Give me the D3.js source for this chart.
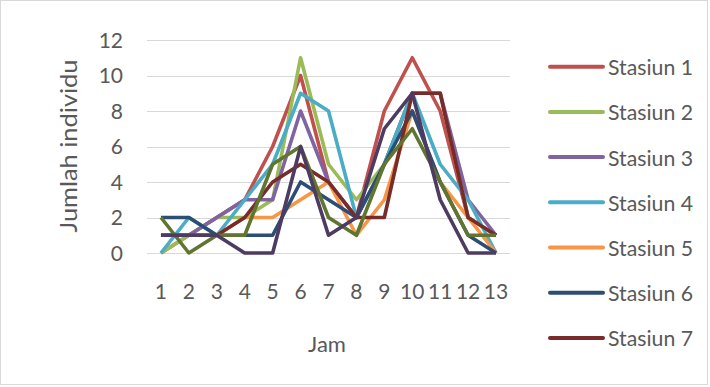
<!DOCTYPE html>
<html>
<head>
<meta charset="utf-8">
<script src="https://cdn.jsdelivr.net/npm/d3@7"></script>
<style>
  html, body { margin: 0; padding: 0; background: #fff; }
  svg { display: block; }
  text { font-family: Lato, "Open Sans", sans-serif; fill: #595959; }
</style>
</head>
<body>
<svg id="chart" width="710" height="387"></svg>
<script>
// ---- data ----
const hours = ["1","2","3","4","5","6","7","8","9","10","11","12","13"];
const yTicks = [0, 2, 4, 6, 8, 10, 12];
const seriesNames = ["Stasiun 1","Stasiun 2","Stasiun 3","Stasiun 4","Stasiun 5","Stasiun 6","Stasiun 7","Stasiun 8","Stasiun 9"];
const stasiun1 = [0, 1, 2, 3, 6, 10, 4, 2, 8, 11, 8, 2, 1];
const stasiun2 = [0, 1, 2, 2, 3, 11, 5, 3, 5, 9, 9, 2, 1];
const stasiun3 = [1, 1, 2, 3, 3, 8, 4, 2, 5, 9, 9, 3, 1];
const stasiun4 = [0, 2, 1, 3, 5, 9, 8, 2, 5, 9, 5, 3, 0];
const stasiun5 = [1, 1, 1, 2, 2, 3, 4, 1, 3, 8, 4, 2, 0];
const stasiun6 = [2, 2, 1, 1, 1, 4, 3, 2, 5, 8, 4, 1, 0];
const stasiun7 = [1, 1, 1, 2, 4, 5, 4, 2, 2, 9, 9, 2, 1];
const stasiun8 = [2, 0, 1, 1, 5, 6, 2, 1, 5, 7, 4, 1, 1];
const stasiun9 = [1, 1, 1, 0, 0, 6, 1, 2, 7, 9, 3, 0, 0];
const seriesValues = [stasiun1, stasiun2, stasiun3, stasiun4, stasiun5, stasiun6, stasiun7, stasiun8, stasiun9];
const colors = ["#C0504D","#9BBB59","#8064A2","#4BACC6","#F79646","#2C4D75","#772C2A","#5F7530","#4D3B62"];
const legendCount = 7; // legend shows only first seven entries

// ---- layout ----
const svg = d3.select("#chart");
const plot = { left: 147, right: 510, top: 40, bottom: 253 };

svg.append("rect")
  .attr("x", 0.5).attr("y", 0.5).attr("width", 707).attr("height", 384)
  .attr("fill", "#fff").attr("stroke", "#d9d9d9").attr("stroke-width", 1);

const x = d3.scaleBand().domain(hours).range([plot.left, plot.right]);
const y = d3.scaleLinear().domain([0, 12]).range([plot.bottom, plot.top]);

// gridlines
svg.append("g").selectAll("line").data(yTicks).join("line")
  .attr("x1", plot.left).attr("x2", plot.right)
  .attr("y1", d => Math.round(y(d)) + 0.5).attr("y2", d => Math.round(y(d)) + 0.5)
  .attr("stroke", "#d9d9d9").attr("stroke-width", 1.2);

// y axis labels
const yAxis = d3.axisLeft(y).tickValues(yTicks).tickSize(0).tickPadding(0);
const gy = svg.append("g").attr("transform", `translate(123,0)`).call(yAxis);
gy.select(".domain").remove();
gy.selectAll("text").attr("font-size", 21).attr("fill", "#595959")
  .style("font-family", "Lato, sans-serif").attr("dy", "0.35em");

// x axis labels
const xAxis = d3.axisBottom(x).tickSize(0).tickPadding(0);
const gx = svg.append("g").attr("transform", `translate(0,284)`).call(xAxis);
gx.select(".domain").remove();
gx.selectAll("text").attr("font-size", 21).attr("fill", "#595959")
  .style("font-family", "Lato, sans-serif").attr("dy", "0.71em");

// axis titles
svg.append("text")
  .attr("transform", "translate(68,146) rotate(-90)")
  .attr("text-anchor", "middle").attr("dominant-baseline", "central")
  .attr("font-size", 23).attr("textLength", 173).attr("lengthAdjust", "spacingAndGlyphs")
  .text("Jumlah individu");

svg.append("text")
  .attr("x", 327).attr("y", 343)
  .attr("text-anchor", "middle").attr("dominant-baseline", "central")
  .attr("font-size", 22)
  .text("Jam");

// lines
const line = d3.line()
  .x((d, i) => x(hours[i]) + x.bandwidth() / 2)
  .y(d => y(d));

svg.append("g").selectAll("path").data(seriesValues).join("path")
  .attr("d", d => line(d))
  .attr("fill", "none")
  .attr("stroke", (d, i) => colors[i])
  .attr("stroke-width", 3.6)
  .attr("stroke-linejoin", "round")
  .attr("stroke-linecap", "butt");

// legend
const lg = svg.append("g").selectAll("g")
  .data(seriesNames.slice(0, legendCount)).join("g")
  .attr("transform", (d, i) => `translate(0,${66.7 + i * 45.2})`);
lg.append("line")
  .attr("x1", 550).attr("x2", 603).attr("y1", 0).attr("y2", 0)
  .attr("stroke", (d, i) => colors[i]).attr("stroke-width", 4)
  .attr("stroke-linecap", "round");
lg.append("text")
  .attr("x", 608).attr("y", 0).attr("dominant-baseline", "central")
  .attr("font-size", 21).attr("textLength", 85).attr("lengthAdjust", "spacingAndGlyphs")
  .text(d => d);
</script>
</body>
</html>
